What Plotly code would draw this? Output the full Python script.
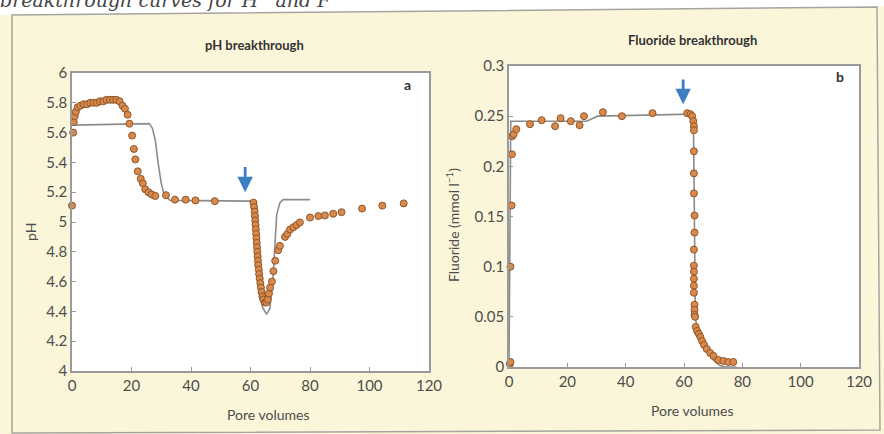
import plotly.graph_objects as go

W, H = 884, 434

# ---- pH breakthrough (panel a) ----
ph_obs_x = [0, 0.4, 0.6, 0.9, 1.3, 1.9, 2.8, 3.9, 5.0, 6.1, 7.2, 8.3, 9.4, 10.5, 11.6,
            12.7, 13.8, 14.9, 16.0, 17.0, 17.8, 18.7, 19.3, 20.2, 20.8, 21.3, 22.1, 23.1,
            23.8, 24.6, 25.7, 26.8, 28.0, 31.6, 34.6, 38.2, 41.5, 48.0,
            61.0, 61.2, 61.4, 61.5, 61.6, 61.7, 61.8, 61.9, 62.0, 62.1, 62.2, 62.3, 62.4,
            62.5, 62.6, 62.8, 62.9, 63.1, 63.3, 63.5, 63.7, 64.0, 64.3, 64.8, 65.3, 65.8,
            66.2, 66.6, 67.2, 67.7, 68.3, 69.3, 69.9, 71.6, 72.4, 73.3, 74.4, 75.5, 76.6,
            80.0, 82.8, 85.0, 87.8, 90.6, 97.5, 104.3, 111.5]
ph_obs_y = [5.11, 5.60, 5.67, 5.71, 5.74, 5.77, 5.78, 5.79, 5.79, 5.80, 5.80, 5.80, 5.81, 5.81, 5.82,
            5.82, 5.82, 5.82, 5.81, 5.78, 5.76, 5.72, 5.66, 5.58, 5.49, 5.42, 5.34, 5.29,
            5.26, 5.22, 5.20, 5.185, 5.175, 5.18, 5.15, 5.15, 5.145, 5.14,
            5.13, 5.10, 5.07, 5.04, 5.01, 4.98, 4.95, 4.92, 4.89, 4.86, 4.83, 4.80, 4.77,
            4.74, 4.71, 4.68, 4.65, 4.62, 4.59, 4.56, 4.53, 4.50, 4.48, 4.46, 4.46, 4.48,
            4.52, 4.56, 4.60, 4.67, 4.74, 4.81, 4.84, 4.90, 4.92, 4.95, 4.965, 4.98, 4.997,
            5.03, 5.04, 5.044, 5.055, 5.066, 5.09, 5.11, 5.125]

ph_model_x = [0, 26, 27, 28, 29, 30, 31, 33, 60.5, 61, 62, 63, 64, 65.4, 66.5, 67.5, 68.2, 68.8,
              69.9, 71, 80]
ph_model_y = [5.65, 5.66, 5.63, 5.55, 5.39, 5.26, 5.18, 5.145, 5.14, 5.0, 4.75, 4.55, 4.43, 4.38,
              4.42, 4.6, 4.9, 5.05, 5.13, 5.15, 5.15]

# ---- Fluoride breakthrough (panel b) ----
f_obs_x = [0.3, 0.5, 0.5, 0.9, 1.0, 1.1, 1.6, 2.5, 7.2, 11.2, 15.8, 17.7, 21.2, 24.2, 25.7,
           32.2, 38.7, 49.2, 61.1, 62.2, 62.8, 63.2, 63.4, 63.4, 63.4, 63.4, 63.4, 63.6,
           63.6, 63.4, 63.4, 63.4, 63.4, 63.4, 63.4, 63.6, 63.6, 63.6, 63.8, 64.0, 64.5,
           65.1, 65.6, 66.2, 66.9, 67.8, 69.0, 70.1, 71.8, 73.5, 75.2, 76.9]
f_obs_y = [0.003, 0.005, 0.100, 0.161, 0.212, 0.230, 0.232, 0.237, 0.242, 0.246, 0.240, 0.248,
           0.245, 0.241, 0.250, 0.254, 0.250, 0.253, 0.253, 0.252, 0.250, 0.245, 0.240, 0.236,
           0.215, 0.193, 0.173, 0.151, 0.134, 0.117, 0.101, 0.095, 0.088, 0.081, 0.074, 0.062,
           0.057, 0.052, 0.050, 0.040, 0.036, 0.033, 0.030, 0.026, 0.022, 0.018, 0.014, 0.011,
           0.007, 0.006, 0.005, 0.005]

f_model_x = [0, 0.3, 0.6, 26.6, 30.4, 62.8, 63.2, 63.4, 63.6, 63.9, 64.5, 66, 68, 70, 72, 74, 78]
f_model_y = [0, 0.1, 0.245, 0.245, 0.250, 0.252, 0.25, 0.2, 0.1, 0.05, 0.038, 0.028, 0.016,
             0.007, 0.002, 0.0, 0.0]

x_ticks = [0, 20, 40, 60, 80, 100, 120]
ph_ticks = [4, 4.2, 4.4, 4.6, 4.8, 5, 5.2, 5.4, 5.6, 5.8, 6]
f_ticks = [0, 0.05, 0.1, 0.15, 0.2, 0.25, 0.3]

CREAM = "#fbf6d9"
FONT = "Lato"
TXT = "#4d4d4d"
LINE = "#8c8c8c"
DOT = "#d8894b"
DOT_EDGE = "#8f5628"
ARROW = "#3b7fc2"


def px_x(p):
    return p / W


def px_y(p):
    return 1 - p / H


fig = go.Figure()

marker = dict(size=7, color=DOT, line=dict(color=DOT_EDGE, width=1))
model_line = dict(color=LINE, width=1.6)

fig.add_trace(go.Scatter(x=ph_model_x, y=ph_model_y, mode="lines", line=model_line,
                         xaxis="x", yaxis="y", showlegend=False))
fig.add_trace(go.Scatter(x=ph_obs_x, y=ph_obs_y, mode="markers", marker=marker,
                         xaxis="x", yaxis="y", showlegend=False, cliponaxis=False))
fig.add_trace(go.Scatter(x=f_model_x, y=f_model_y, mode="lines", line=model_line,
                         xaxis="x2", yaxis="y2", showlegend=False))
fig.add_trace(go.Scatter(x=f_obs_x, y=f_obs_y, mode="markers", marker=marker,
                         xaxis="x2", yaxis="y2", showlegend=False, cliponaxis=False))

axis_common = dict(showline=True, mirror=True, linecolor="#9a9a9a", linewidth=1.5,
                   showgrid=False, zeroline=False, ticks="inside", ticklen=4,
                   tickcolor="#9a9a9a", automargin=False,
                   tickfont=dict(family=FONT, size=15, color=TXT))

fig.update_layout(
    width=W, height=H,
    margin=dict(l=0, r=0, t=0, b=0, autoexpand=False),
    paper_bgcolor=CREAM,
    plot_bgcolor="white",
    xaxis=dict(domain=[px_x(72), px_x(429)], range=[0, 120], tickvals=x_ticks,
               anchor="y", **axis_common),
    yaxis=dict(domain=[px_y(371), px_y(73)], range=[4, 6], tickvals=ph_ticks,
               anchor="x", **axis_common),
    xaxis2=dict(domain=[px_x(509), px_x(859)], range=[0, 120], tickvals=x_ticks,
                anchor="y2", **axis_common),
    yaxis2=dict(domain=[px_y(367), px_y(66)], range=[0, 0.3], tickvals=f_ticks,
                anchor="x2", **axis_common),
)

# page edge above the framed figure and the slightly tilted frame
fig.add_shape(type="path", xref="paper", yref="paper", layer="below",
              path=f"M 0 1 L 1 1 L 1 {px_y(6)} L {px_x(877)} {px_y(7)} L {px_x(12)} {px_y(15)} L 0 {px_y(15)} Z",
              fillcolor="white", line=dict(width=0))
fig.add_shape(type="path", xref="paper", yref="paper",
              path=f"M {px_x(12)} {px_y(15)} L {px_x(877)} {px_y(7)} L {px_x(880)} {px_y(430)} L {px_x(12)} {px_y(433)} Z",
              fillcolor="rgba(0,0,0,0)", line=dict(color="#a5a5a0", width=1.5))

annotations = [
    dict(text="<i>breakthrough curves for H<sup>+</sup> and F<sup>−</sup></i>",
         x=px_x(-2), y=px_y(13), xanchor="left", yanchor="bottom",
         font=dict(family="DejaVu Serif", size=19, color="#444444")),
    dict(text="<b>pH breakthrough</b>", x=px_x(255), y=px_y(45),
         font=dict(family=FONT, size=13, color="#333333")),
    dict(text="<b>Fluoride breakthrough</b>", x=px_x(692), y=px_y(40),
         font=dict(family=FONT, size=13, color="#333333")),
    dict(text="Pore volumes", x=px_x(268), y=px_y(414),
         font=dict(family=FONT, size=14, color=TXT)),
    dict(text="Pore volumes", x=px_x(692), y=px_y(410),
         font=dict(family=FONT, size=14, color=TXT)),
    dict(text="pH", x=px_x(30), y=px_y(232), textangle=-90,
         font=dict(family=FONT, size=14, color=TXT)),
    dict(text="Fluoride (mmol l<sup>−1</sup>)", x=px_x(452), y=px_y(225), textangle=-90,
         font=dict(family=FONT, size=14, color=TXT)),
    dict(text="<b>a</b>", x=px_x(407), y=px_y(84),
         font=dict(family=FONT, size=14, color="#333333")),
    dict(text="<b>b</b>", x=px_x(840), y=px_y(76),
         font=dict(family=FONT, size=14, color="#333333")),
]
for a in annotations:
    a.setdefault("xref", "paper")
    a.setdefault("yref", "paper")
    a.setdefault("xanchor", "center")
    a.setdefault("yanchor", "middle")
    a.setdefault("showarrow", False)
    fig.add_annotation(**a)

# arrows marking the switch of the inflow solution
fig.add_annotation(x=58.2, y=5.2, ax=58.2, ay=5.38, xref="x", yref="y", axref="x", ayref="y",
                   text="", showarrow=True, arrowhead=2, arrowsize=1.1, arrowwidth=2.8,
                   arrowcolor=ARROW)
fig.add_annotation(x=59.7, y=0.262, ax=59.7, ay=0.288, xref="x2", yref="y2", axref="x2",
                   ayref="y2", text="", showarrow=True, arrowhead=2, arrowsize=1.1,
                   arrowwidth=2.8, arrowcolor=ARROW)

fig.write_html("out.html")
